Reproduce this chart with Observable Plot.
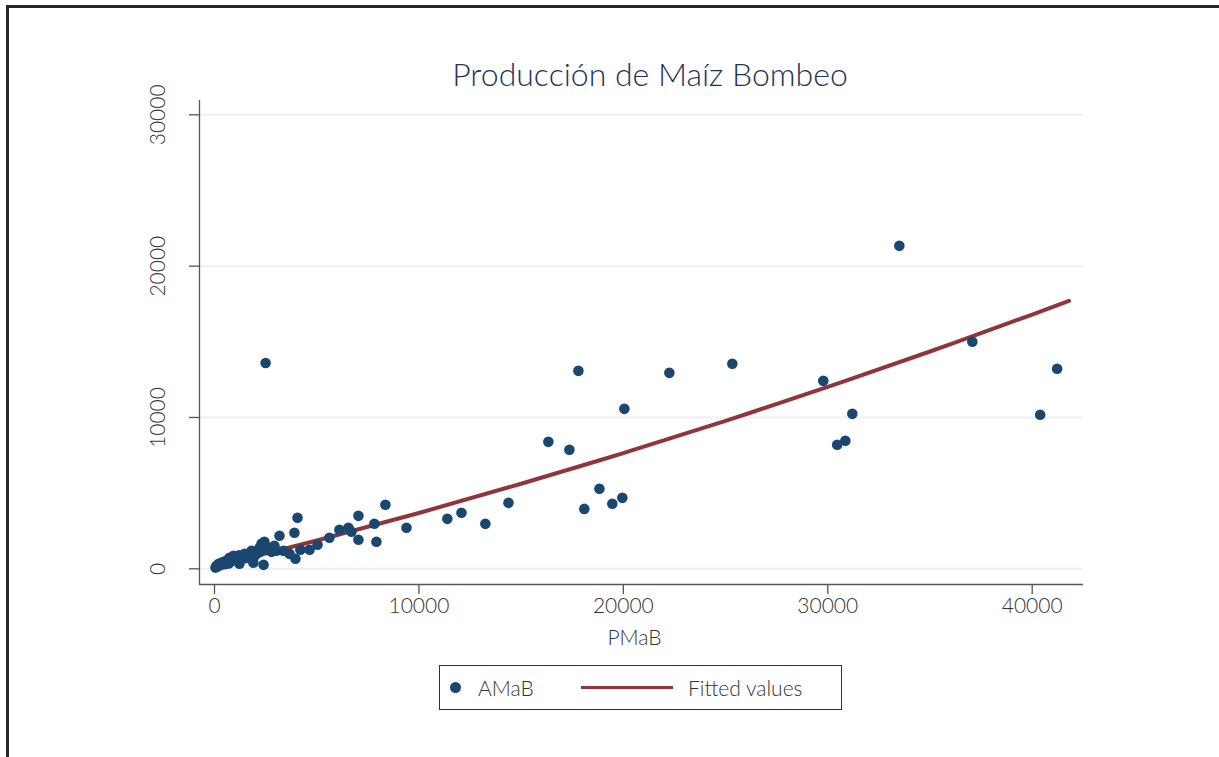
<!DOCTYPE html>
<html>
<head>
<meta charset="utf-8">
<script src="https://cdn.jsdelivr.net/npm/d3@7"></script>
<script src="https://cdn.jsdelivr.net/npm/@observablehq/plot@0.6"></script>
<style>
  html, body { margin: 0; padding: 0; width: 1219px; height: 757px; overflow: hidden; background: #fff; }
  #frame { position: absolute; left: 6px; top: 5px; width: 1400px; height: 900px; border: 3px solid #262626; box-sizing: border-box; }
  #chart { position: absolute; left: 0; top: 0; }
  #title { position: absolute; left: 0; width: 1300px; top: 54px; text-align: center; font-family: Lato, "Open Sans", sans-serif; font-weight: 300; font-size: 32px; color: #24325a; }
  #legend { position: absolute; left: 439px; top: 665px; width: 403px; height: 45px; border: 1px solid #333; box-sizing: border-box; font-family: Lato, sans-serif; font-weight: 300; font-size: 21px; color: #333; }
  #legend .dot { position: absolute; left: 10px; top: 16px; width: 11px; height: 11px; border-radius: 50%; background: #1a476f; }
  #legend .t1 { position: absolute; left: 38px; top: 9px; }
  #legend .ln { position: absolute; left: 141px; top: 20px; width: 92px; height: 3px; background: #90353b; }
  #legend .t2 { position: absolute; left: 248px; top: 9px; }
</style>
</head>
<body>
<div id="frame"></div>
<div id="chart"></div>
<div id="title">Producción de Maíz Bombeo</div>
<div id="legend"><div class="dot"></div><span class="t1">AMaB</span><div class="ln"></div><span class="t2">Fitted values</span></div>
<script>
const pmab = [50,100,150,200,300,340,440,500,590,650,700,730,800,830,900,930,1000,1080,1200,1220,1320,1470,1500,1610,1700,1810,1900,2000,2050,2200,2200,2300,2440,2400,2500,2590,2700,2790,2930,3030,3180,3370,3670,3910,3960,4060,4200,4650,5040,5620,6110,6550,6700,7040,7040,7820,7920,8360,9390,
  2500,11390,12080,13250,14380,16330,17360,17800,18090,18830,19460,19950,20050,22250,25330,29780,30460,30860,31200,33500,37070,40390,41220];
const amab = [80,200,150,330,250,400,460,300,530,450,350,730,500,660,600,860,750,660,900,330,790,990,700,860,1000,1190,400,900,1060,1390,1100,1650,1790,260,1500,1260,1300,1120,1520,1190,2180,1190,990,2380,660,3370,1260,1260,1590,2050,2580,2710,2450,3500,1920,2980,1790,4230,2710,
  13600,3300,3700,2970,4360,8390,7860,13080,3960,5290,4300,4690,10570,12950,13550,12420,8200,8460,10240,21340,15000,10180,13220];
const fitX = [0,5000,10000,15000,20000,25000,30000,35000,40000,41800];
const fitY = [150,1870,3690,5620,7650,9780,12020,14360,16800,17700];
const xTicks = [0,10000,20000,30000,40000];
const yTicks = [0,10000,20000,30000];
const xDomain = [-734, 42509];
const yDomain = [-1037, 30946];

const pts = pmab.map((x, i) => ({x, y: amab[i]}));
const fit = fitX.map((x, i) => ({x, y: fitY[i]}));
const font = "Lato, 'Open Sans', sans-serif";

const chart = Plot.plot({
  width: 1219, height: 757,
  marginLeft: 199, marginRight: 136, marginTop: 100, marginBottom: 173,
  style: {fontFamily: font, background: "transparent", overflow: "visible"},
  x: {domain: xDomain, axis: null},
  y: {domain: yDomain, axis: null},
  marks: [
    Plot.ruleY(yTicks, {y: d => d, stroke: "#eaf2f3", strokeWidth: 2}),
    Plot.axisX(xTicks, {tickSize: 10, tickFormat: () => "", label: null, stroke: "#555", strokeWidth: 1.3}),
    Plot.axisY(yTicks, {tickSize: 10, tickFormat: () => "", label: null, stroke: "#555", strokeWidth: 1.3}),
    Plot.text(xTicks, {x: d => d, text: d => String(d), frameAnchor: "bottom", dy: 28, fontSize: 21, fontWeight: 300, fill: "#333", fontFamily: font}),
    Plot.text(yTicks, {y: d => d, text: d => String(d), frameAnchor: "left", textAnchor: "middle", dx: -41, rotate: -90, fontSize: 21, fontWeight: 300, fill: "#333", fontFamily: font}),
    Plot.text(["PMaB"], {text: d => d, frameAnchor: "bottom", dx: -7, dy: 60, fontSize: 21, fontWeight: 300, fill: "#333", fontFamily: font}),
    Plot.line(fit, {x: "x", y: "y", stroke: "#90353b", strokeWidth: 4, curve: "natural"}),
    Plot.dot(pts, {x: "x", y: "y", r: 5.3, fill: "#1a476f", stroke: "none"}),
    Plot.ruleX([xDomain[0]], {stroke: "#555", strokeWidth: 1.3}),
    Plot.ruleY([yDomain[0]], {stroke: "#555", strokeWidth: 1.3})
  ]
});
document.getElementById("chart").appendChild(chart);
</script>
</body>
</html>
